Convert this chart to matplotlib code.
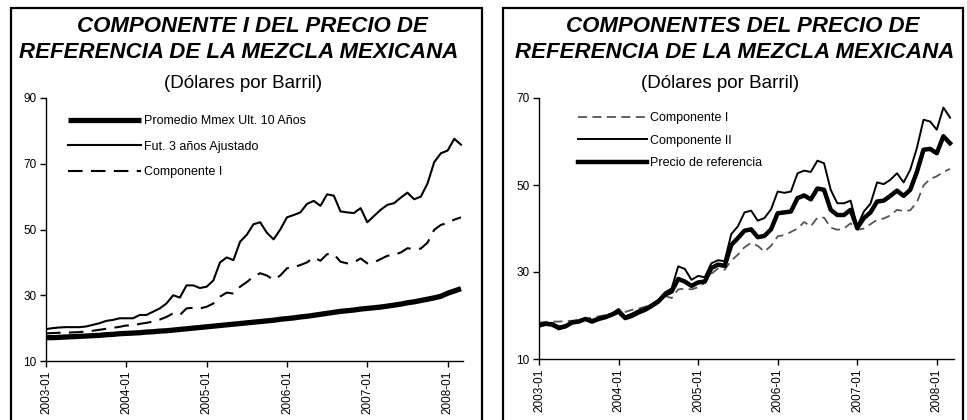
import matplotlib
matplotlib.use("Agg")
import matplotlib.pyplot as plt
from matplotlib.patches import Rectangle

plt.rcParams['font.family'] = ['Liberation Sans', 'DejaVu Sans']

# ---------------- data (monthly, 2003-01 .. 2008-03) ----------------
months = list(range(63))
tick_positions = [0, 12, 24, 36, 48, 60]
tick_labels = ['2003-01', '2004-01', '2005-01', '2006-01', '2007-01', '2008-01']

promedio_mmex = [
    17.1, 17.1, 17.2, 17.3, 17.4, 17.5, 17.6, 17.7, 17.8, 18.0, 18.1, 18.3,
    18.4, 18.5, 18.6, 18.8, 18.9, 19.1, 19.2, 19.4, 19.6, 19.8, 20.0, 20.2,
    20.4, 20.6, 20.8, 21.0, 21.2, 21.4, 21.6, 21.8, 22.0, 22.2, 22.4, 22.7,
    22.9, 23.1, 23.4, 23.6, 23.9, 24.2, 24.5, 24.8, 25.1, 25.3, 25.5, 25.8,
    26.0, 26.2, 26.4, 26.7, 27.0, 27.3, 27.7, 28.0, 28.4, 28.8, 29.2, 29.7,
    30.6, 31.3, 32.0]

fut_3_anos = [
    19.7, 20.0, 20.2, 20.3, 20.3, 20.3, 20.5, 21.0, 21.5, 22.2, 22.5, 23.0,
    23.0, 23.0, 24.0, 24.0, 25.0, 26.0, 27.5, 30.0, 29.3, 33.0, 33.0, 32.2,
    32.6, 34.5, 40.0, 41.5, 40.7, 46.3, 48.4, 51.6, 52.2, 49.0, 47.0, 50.0,
    53.7, 54.4, 55.2, 57.8, 58.7, 57.2, 60.7, 60.3, 55.5, 55.2, 55.0, 56.5,
    52.2, 54.1, 56.0, 57.5, 58.0, 59.7, 61.2, 59.2, 60.0, 64.0, 70.5, 73.2,
    74.0, 77.6, 75.8]

componente_1 = [
    18.4, 18.5, 18.6, 18.6, 18.7, 18.8, 19.0, 19.2, 19.5, 19.8, 20.1, 20.4,
    20.8, 20.8, 21.3, 21.6, 22.0, 22.6, 23.4, 24.5, 24.0, 26.0, 26.2, 26.0,
    26.5, 27.5, 29.6, 30.8, 30.5, 32.6, 34.0, 35.7, 36.7, 36.0, 34.7, 36.0,
    38.2, 38.5, 39.2, 40.0, 41.5, 40.5, 42.5, 42.5, 40.2, 39.7, 40.0, 41.2,
    39.7, 40.0, 41.0, 42.0, 42.3, 43.0, 44.3, 44.0, 44.2, 46.0, 49.9, 51.4,
    52.0, 53.0, 53.7]

componente_2 = [
    17.9, 18.3, 18.3, 17.5, 17.8, 18.6, 18.9, 19.4, 19.0, 19.5, 19.9, 20.5,
    21.5, 19.8, 20.4, 21.2, 21.7, 22.6, 23.6, 25.3, 26.2, 31.3, 30.7, 28.2,
    29.1, 28.8, 32.0, 32.7, 32.5, 38.7, 40.5, 43.7, 44.1, 41.8, 42.4, 44.4,
    48.5, 48.2, 48.5, 52.7, 53.3, 53.0, 55.6, 55.0, 48.9, 45.8, 45.8, 46.4,
    40.5, 43.9, 45.7, 50.6, 50.2, 51.2, 52.7, 50.6, 53.5, 58.5, 65.0, 64.6,
    62.7, 67.8, 65.5]

precio_referencia = [
    17.7, 18.1, 17.9, 17.1, 17.5, 18.4, 18.6, 19.2, 18.6, 19.2, 19.6, 20.2,
    20.9, 19.4, 19.9, 20.7, 21.3, 22.2, 23.2, 24.8, 25.5, 28.4, 27.8, 26.8,
    27.6, 27.8, 30.9, 31.7, 31.4, 36.2, 37.8, 39.5, 39.8, 38.0, 38.3, 39.8,
    43.5, 43.7, 43.9, 47.0, 47.6, 46.7, 49.2, 48.9, 44.3, 43.1, 43.1, 44.3,
    40.1, 42.4, 43.7, 46.2, 46.4, 47.5, 48.7, 47.5, 48.9, 53.0, 58.1, 58.3,
    57.3, 61.2, 59.6]

left_title = ['COMPONENTE I DEL PRECIO DE', 'REFERENCIA DE LA MEZCLA MEXICANA']
right_title = ['COMPONENTES DEL PRECIO DE', 'REFERENCIA DE LA MEZCLA MEXICANA']
subtitle = '(Dólares por Barril)'

W, H = 967, 420
fig = plt.figure(figsize=(W / 100, H / 100), dpi=100)


def fx(px):
    return px / W


def fy(py):
    return 1 - py / H


# panel frames
for x0, x1 in [(11, 482), (503, 963)]:
    fig.patches.append(Rectangle((fx(x0), fy(425)), fx(x1 - x0), (425 - 8) / H,
                                 transform=fig.transFigure, fill=False,
                                 edgecolor='black', linewidth=1.6))

# titles
tkw = dict(fontsize=16, fontweight='bold', fontstyle='italic', ha='center', va='baseline')
fig.text(fx(252), fy(32), left_title[0], **tkw)
fig.text(fx(239), fy(58), left_title[1], **tkw)
fig.text(fx(243), fy(88), subtitle, fontsize=13.5, ha='center', va='baseline')
fig.text(fx(743), fy(32), right_title[0], **tkw)
fig.text(fx(735), fy(58), right_title[1], **tkw)
fig.text(fx(720), fy(88), subtitle, fontsize=13.5, ha='center', va='baseline')


def style_axes(ax, ylim, yticks, xmax):
    ax.set_xlim(0, xmax)
    ax.set_ylim(*ylim)
    ax.set_yticks(yticks)
    ax.set_xticks(tick_positions)
    ax.set_xticklabels(tick_labels, rotation=90)
    for s in ['top', 'right']:
        ax.spines[s].set_visible(False)
    for s in ['left', 'bottom']:
        ax.spines[s].set_linewidth(1.0)
    ax.tick_params(axis='both', direction='out', length=4, width=1.0, labelsize=8.5, pad=3)
    ax.patch.set_alpha(0)


# left chart
axl = fig.add_axes([fx(46), fy(361), fx(463 - 46), (361 - 98) / H])
axl.plot(months, promedio_mmex, color='black', linewidth=3.8, label='Promedio Mmex Ult. 10 Años',
         solid_capstyle='butt')
axl.plot(months, fut_3_anos, color='black', linewidth=1.5, label='Fut. 3 años Ajustado')
axl.plot(months, componente_1, color='black', linewidth=1.5, dashes=(7, 4), label='Componente I')
style_axes(axl, (10, 90), [10, 30, 50, 70, 90], 62.3)
axl.legend(loc='upper left', bbox_to_anchor=(fx(68), fy(115)), bbox_transform=fig.transFigure,
           frameon=False, fontsize=9, handlelength=5.8, handletextpad=0.25, borderpad=0,
           borderaxespad=0, labelspacing=1.1)

# right chart
axr = fig.add_axes([fx(539), fy(359), fx(954 - 539), (359 - 98) / H])
axr.plot(months, componente_1, color='#555555', linewidth=1.3, dashes=(5, 3), label='Componente I')
axr.plot(months, componente_2, color='black', linewidth=1.4, label='Componente II')
axr.plot(months, precio_referencia, color='black', linewidth=3.2, label='Precio de referencia')
style_axes(axr, (10, 70), [10, 30, 50, 70], 62.6)
axr.legend(loc='upper left', bbox_to_anchor=(fx(578), fy(112)), bbox_transform=fig.transFigure,
           frameon=False, fontsize=9, handlelength=5.5, handletextpad=0.25, borderpad=0,
           borderaxespad=0, labelspacing=0.85)

fig.savefig('out.png', dpi=100)
